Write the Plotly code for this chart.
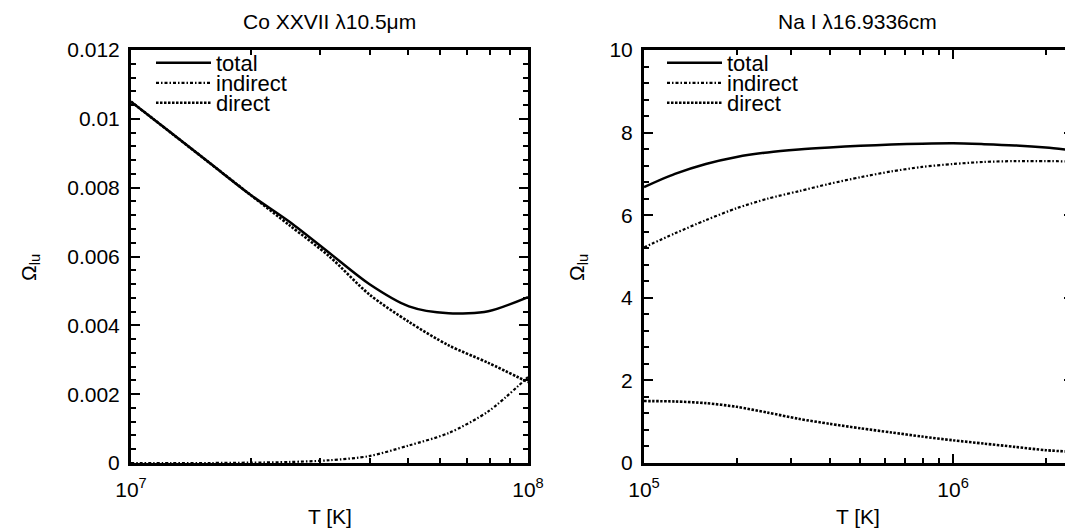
import plotly.graph_objects as go

# ---------------- data ----------------
# Left panel: Co XXVII lambda 10.5 um
T_co = [1.0e7, 1.259e7, 1.585e7, 1.995e7, 2.512e7, 3.162e7, 3.981e7, 5.012e7, 6.310e7, 7.943e7, 1.0e8]
co_total = [0.0105, 0.0096, 0.0087, 0.0078, 0.0070, 0.0061, 0.0052, 0.00455, 0.00435, 0.00441, 0.00482]
co_indirect = [0.0, 0.0, 0.0, 0.00001, 0.00003, 0.00008, 0.0002, 0.00051, 0.00087, 0.00150, 0.0025]
co_direct = [0.0105, 0.0096, 0.0087, 0.0078, 0.0069, 0.0060, 0.0049, 0.0041, 0.00342, 0.00291, 0.00235]

# Right panel: Na I lambda 16.9336 cm
T_na = [1.0e5, 1.259e5, 1.585e5, 1.995e5, 2.512e5, 3.162e5, 3.981e5, 5.012e5, 6.310e5,
        7.943e5, 1.0e6, 1.259e6, 1.585e6, 1.995e6, 2.46e6]
na_total = [6.68, 7.00, 7.24, 7.41, 7.52, 7.59, 7.64, 7.68, 7.71, 7.73, 7.74, 7.72, 7.69, 7.64, 7.57]
na_indirect = [5.22, 5.56, 5.88, 6.17, 6.40, 6.58, 6.76, 6.92, 7.06, 7.17, 7.24, 7.29, 7.31, 7.31, 7.30]
na_direct = [1.50, 1.49, 1.45, 1.36, 1.22, 1.07, 0.95, 0.84, 0.74, 0.64, 0.55, 0.47, 0.39, 0.31, 0.27]

series_names = ["total", "indirect", "direct"]
titles = ["Co XXVII \u03bb10.5\u03bcm", "Na I \u03bb16.9336cm"]
x_title = "T [K]"
y_title = "\u03a9<sub>lu</sub>"

FONT = "Liberation Sans, Arial, Helvetica, sans-serif"
FS = 21
# the page body has an 8px margin, so the figure is sized to fit the 1073x529 window
OFF = 8
W, H = 1073 - OFF, 529 - OFF


def sx(px):
    return (px - OFF) / W


def sy(py):
    return 1 - (py - OFF) / H


styles = {
    "total": dict(color="black", width=2.5, dash="solid"),
    "indirect": dict(color="black", width=2.2, dash="3px,2px,1.5px,2px"),
    "direct": dict(color="black", width=2.6, dash="2.5px,1.5px"),
}

left_dom = [sx(131), sx(528)]
right_dom = [sx(644), 1.0]
y_dom = [sy(463), sy(50)]

fig = go.Figure()
legend_ids = ["legend", "legend2", "legend3", "legend4", "legend5", "legend6"]
k = 0
for xa, ya, T, vals in [("x", "y", T_co, [co_total, co_indirect, co_direct]),
                        ("x2", "y2", T_na, [na_total, na_indirect, na_direct])]:
    for name, ys in zip(series_names, vals):
        fig.add_trace(go.Scatter(x=T, y=ys, mode="lines", name=name,
                                 line=dict(shape="spline", smoothing=0.8, **styles[name]),
                                 xaxis=xa, yaxis=ya, legend=legend_ids[k]))
        k += 1

common_axis = dict(showline=True, linecolor="black", linewidth=3, mirror="allticks",
                   ticks="inside", ticklen=9, tickwidth=2, tickcolor="black",
                   showgrid=False, zeroline=False, automargin=False,
                   tickfont=dict(family=FONT, size=FS, color="black"))
minor_common = dict(ticks="inside", ticklen=5, tickwidth=2, tickcolor="black")

layout = dict(
    template="none",
    width=W, height=H,
    margin=dict(l=0, r=0, t=0, b=0, pad=0, autoexpand=False),
    paper_bgcolor="white", plot_bgcolor="white",
    font=dict(family=FONT, size=FS, color="black"),
    showlegend=True,
    xaxis=dict(type="log", domain=left_dom, range=[7, 8], anchor="y",
               tickvals=[1e7, 1e8], ticktext=["10<sup>7</sup>", "10<sup>8</sup>"],
               ticklabelstandoff=6,
               minor=dict(tickvals=[2e7, 3e7, 4e7, 5e7, 6e7, 7e7, 8e7, 9e7], **minor_common),
               **common_axis),
    yaxis=dict(domain=y_dom, range=[0, 0.012], anchor="x", tickmode="linear", tick0=0, dtick=0.002,
               ticklabelstandoff=4,
               minor=dict(dtick=0.0004, **minor_common),
               **common_axis),
    xaxis2=dict(type="log", domain=right_dom, range=[5, 6.388], anchor="y2",
                tickvals=[1e5, 1e6], ticktext=["10<sup>5</sup>", "10<sup>6</sup>"],
                ticklabelstandoff=6,
                minor=dict(tickvals=[2e5, 3e5, 4e5, 5e5, 6e5, 7e5, 8e5, 9e5, 2e6], **minor_common),
                **common_axis),
    yaxis2=dict(domain=y_dom, range=[0, 10], anchor="x2", tickmode="linear", tick0=0, dtick=2,
                ticklabelstandoff=4,
                minor=dict(dtick=0.4, **minor_common),
                **common_axis),
)

row_y = [63, 83, 103]
leg_x = [sx(151), sx(662)]
for i, lid in enumerate(legend_ids):
    panel = i // 3
    row = i % 3
    layout[lid] = dict(x=leg_x[panel], y=sy(row_y[row]), xanchor="left", yanchor="middle",
                       bgcolor="rgba(0,0,0,0)", borderwidth=0,
                       font=dict(family=FONT, size=22, color="black"),
                       itemwidth=55, tracegroupgap=0)
fig.update_layout(**layout)

annots = []
for title, xc in zip(titles, [(sx(131) + sx(528)) / 2, (sx(644) + sx(1071)) / 2]):
    annots.append(dict(text=title, x=xc, y=sy(21), xref="paper", yref="paper",
                       showarrow=False, xanchor="center", yanchor="middle",
                       font=dict(family=FONT, size=FS, color="black")))
    annots.append(dict(text=x_title, x=xc, y=sy(516), xref="paper", yref="paper",
                       showarrow=False, xanchor="center", yanchor="middle",
                       font=dict(family=FONT, size=FS, color="black")))
for px in [30, 578]:
    annots.append(dict(text=y_title, x=sx(px), y=sy(268), xref="paper", yref="paper",
                       showarrow=False, xanchor="center", yanchor="middle", textangle=-90,
                       font=dict(family=FONT, size=FS, color="black")))
fig.update_layout(annotations=annots)

fig.write_html("out.html")
